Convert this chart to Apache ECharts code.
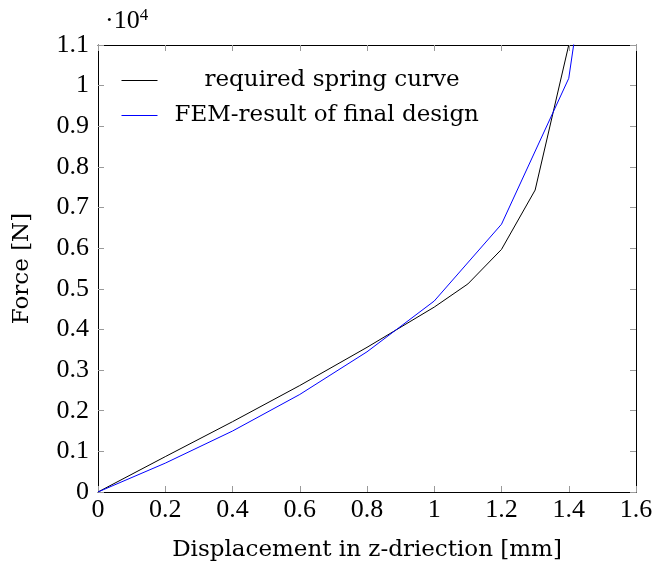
<!DOCTYPE html>
<html><head><meta charset="utf-8">
<script src="https://cdn.jsdelivr.net/npm/echarts@6/dist/echarts.min.js"></script>
<style>html,body{margin:0;padding:0;background:#fff}#c{width:655px;height:563px}</style>
</head><body><div id="c"></div>
<script>
var xRequired = [0, 0.2, 0.4, 0.6, 0.8, 1.0, 1.1, 1.2, 1.3, 1.4];
var yRequired = [0, 870, 1730, 2620, 3560, 4550, 5120, 5970, 7430, 11000];
var xFEM = [0, 0.2, 0.4, 0.6, 0.8, 1.0, 1.2, 1.4, 1.45];
var yFEM = [0, 710, 1500, 2400, 3450, 4700, 6590, 10180, 13000];
var seriesNames = ['required spring curve', 'FEM-result of final design'];
var seriesColors = ['#000000', '#0000ff'];
var xLabel = 'Displacement in z-driection [mm]';
var yLabel = 'Force [N]';

var NUMFONT = 'Liberation Serif';
var NFS = 26;
var FONT = 'DejaVu Serif';
var FS = 23;
function pairs(xs, ys){ return xs.map(function(x,i){return [x, ys[i]];}); }
var tickStyle = {show:true, inside:true, length:6, lineStyle:{color:'#9a9a9a', width:1}};
var lineStyle = {color:'#000', width:1};
var chart = echarts.init(document.getElementById('c'));
chart.setOption({
  animation:false,
  backgroundColor:'#fff',
  grid:{left:98, right:19, top:45, bottom:71, containLabel:false, outerBoundsMode:'none'},
  xAxis:[{
    type:'value', min:0, max:1.6, interval:0.2, position:'bottom',
    axisLine:{show:true, onZero:false, lineStyle:lineStyle}, axisTick:tickStyle,
    splitLine:{show:false},
    axisLabel:{fontFamily:NUMFONT, fontSize:NFS, color:'#000', margin:5,
      formatter:function(v){return String(+v.toFixed(1));}},
    name:xLabel, nameLocation:'middle', nameGap:47,
    nameTextStyle:{fontFamily:FONT, fontSize:FS, color:'#000'}
  },{
    type:'value', min:0, max:1.6, interval:0.2, position:'top',
    axisLine:{show:true, onZero:false, lineStyle:lineStyle}, axisTick:tickStyle,
    axisLabel:{show:false}, splitLine:{show:false}
  }],
  yAxis:[{
    type:'value', min:0, max:11000, interval:1000, position:'left',
    axisLine:{show:true, onZero:false, lineStyle:lineStyle}, axisTick:tickStyle,
    splitLine:{show:false},
    axisLabel:{fontFamily:NUMFONT, fontSize:NFS, color:'#000', margin:9,
      formatter:function(v){return String(+(v/10000).toFixed(1));}},
    name:yLabel, nameLocation:'middle', nameGap:64,
    nameTextStyle:{fontFamily:FONT, fontSize:FS, color:'#000'}
  },{
    type:'value', min:0, max:11000, interval:1000, position:'right',
    axisLine:{show:true, onZero:false, lineStyle:lineStyle}, axisTick:tickStyle,
    axisLabel:{show:false}, splitLine:{show:false}
  }],
  legend:[{
    data:[seriesNames[0]],
    left:116, top:64, orient:'vertical',
    itemWidth:36, itemHeight:14, itemStyle:{opacity:0},
    lineStyle:{width:1, color:seriesColors[0]},
    textStyle:{fontFamily:FONT, fontSize:FS, color:'#000', padding:[0,0,0,42]}
  },{
    data:[seriesNames[1]],
    left:116, top:99, orient:'vertical',
    itemWidth:36, itemHeight:14, itemStyle:{opacity:0},
    lineStyle:{width:1, color:seriesColors[1]},
    textStyle:{fontFamily:FONT, fontSize:FS, color:'#000', padding:[0,0,0,12]}
  }],
  graphic:[{
    type:'text', left:105, top:7,
    style:{rich:{a:{fontFamily:NUMFONT,fontSize:NFS,fill:'#000'},s:{fontFamily:NUMFONT,fontSize:17,fill:'#000',verticalAlign:'top',padding:[0,0,12,0]}},
      text:'{a|·10}{s|4}'}
  }],
  series:[{
    name:seriesNames[0], type:'line', data:pairs(xRequired,yRequired),
    symbol:'none', clip:true, color:seriesColors[0],
    itemStyle:{color:seriesColors[0]}, lineStyle:{color:seriesColors[0], width:1}
  },{
    name:seriesNames[1], type:'line', data:pairs(xFEM,yFEM),
    symbol:'none', clip:true, color:seriesColors[1],
    itemStyle:{color:seriesColors[1]}, lineStyle:{color:seriesColors[1], width:1}
  }]
});
</script></body></html>
